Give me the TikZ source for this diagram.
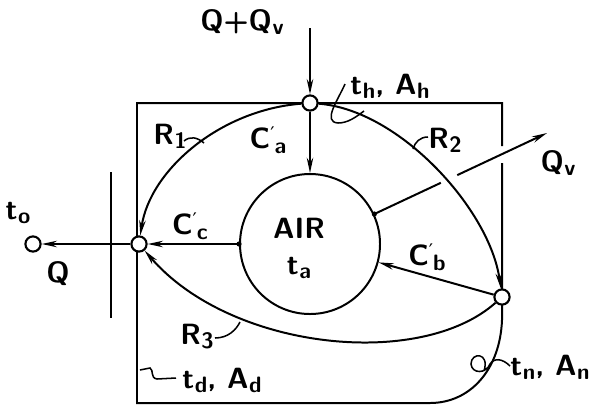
\documentclass[tikz,border=0pt]{standalone}
\usepackage{fontspec}
\newfontfamily\primefont{DejaVu Sans}
\usetikzlibrary{arrows.meta, calc, positioning}
\tikzset{>={Stealth[length=13pt,width=5.5pt]}}
\tikzset{junction/.style={circle, draw, fill=white, line width=1.8pt,
    minimum size=13pt, inner sep=0pt}}
\tikzset{lbl/.style={font=\sffamily\bfseries\fontsize{25}{30}\selectfont, inner sep=1pt}}
\tikzset{leader/.style={line width=1.3pt}}
\newcommand{\sv}[2]{#1\kern.5pt\raisebox{-.3ex}{\fontsize{19}{24}\selectfont #2}}
\newcommand{\cp}[1]{C\raisebox{.6ex}{\primefont\mdseries\fontsize{16}{18}\selectfont ′}%
  \raisebox{-.4ex}{\fontsize{19}{24}\selectfont #1}}

\begin{document}
\begin{tikzpicture}[x=0.03cm, y=-0.03cm, line width=1.7pt]
  \useasboundingbox (0,0) rectangle (594,406);%
  % room walls, broken where Qv leaves
  \draw (502,163) -- (502,320) .. controls (500,370) and (470,403) .. (430,403)
    -- (137,403) -- (137,103) -- (502,103) -- (502,146);%
  \draw (111,172) -- (111,318);%
  % nodes
  \node[circle, draw, minimum size=4.2cm, inner sep=0pt] (air) at (310,244) {};%
  \node[junction] (h) at (310,103) {};%
  \node[junction] (c) at (139,244) {};%
  \node[junction] (n) at (502,297) {};%
  \node[junction] (o) at (33,244) {};%
  \coordinate (qtop) at (310,28);%
  \coordinate (qvs) at (air.25);%
  \coordinate (qve) at (547,133);%
  \coordinate (ccs) at (air.west);%
  \fill (qvs) circle (2.2pt);%
  \fill (ccs) circle (2.2pt);%
  % heat flows
  \draw[->] (qtop) -- (h);%
  \draw[->] (h) -- (air);%
  \draw[->] (h) .. controls (220,110) and (150,170) .. (c);%
  \draw[->] (h) .. controls (400,110) and (490,210) .. (n);%
  \draw[->] (n) .. controls (420,370) and (230,350) .. (c);%
  \draw[->] (n) -- (air.-15);%
  \draw[->] (ccs) -- (c);%
  \draw[->] (c) -- (o);%
  \draw (qvs) -- ($(qvs)!0.385!(qve)$);%
  \draw[->] ($(qvs)!0.48!(qve)$) -- (qve);%
  % labels
  \node[lbl] (qqv) at (242,22) {Q+\sv{Q}{v}};%
  \node[lbl] (ca) at (268,140) {\cp{a}};%
  \node[lbl] (r1) at (170,136) {\sv{R}{1}};%
  \node[lbl] (r2) at (445,140) {\sv{R}{2}};%
  \node[lbl] (r3) at (197,337) {\sv{R}{3}};%
  \node[lbl] (thah) at (390,86) {\sv{t}{h}, \sv{A}{h}};%
  \node[lbl] (qv) at (558,163) {\sv{Q}{v}};%
  \node[lbl] (airtxt) at (299,228) {AIR};%
  \node[lbl] (ta) at (299,268) {\sv{t}{a}};%
  \node[lbl] (cc) at (190,226) {\cp{c}};%
  \node[lbl] (cb) at (427,257) {\cp{b}};%
  \node[lbl] (to) at (18,213) {\sv{t}{o}};%
  \node[lbl] (q) at (58,274) {Q};%
  \node[lbl] (tdad) at (222,380) {\sv{t}{d}, \sv{A}{d}};%
  \node[lbl] (tnan) at (550,367) {\sv{t}{n}, \sv{A}{n}};%
  % leaders
  \draw[leader] (184,141) .. controls (190,136) and (197,137) .. (204,143);%
  \draw[leader] (428,137) .. controls (420,137) and (415,142) .. (413,149);%
  \draw[leader] (215,338) .. controls (228,338) and (236,330) .. (240,322);%
  \draw[leader] (345,84) .. controls (338,100) and (322,122) .. (338,123)
    .. controls (348,123) and (356,117) .. (364,111);%
  \draw[leader] (510,366) .. controls (502,358) and (494,358) .. (490,364)
    .. controls (486,374) and (472,374) .. (471,364)
    .. controls (471,352) and (490,352) .. (484,371);%
  \draw[leader] (140,370) -- (150,368) .. controls (154,370) and (150,378) .. (157,379)
    -- (176,378);%
\end{tikzpicture}
\end{document}
